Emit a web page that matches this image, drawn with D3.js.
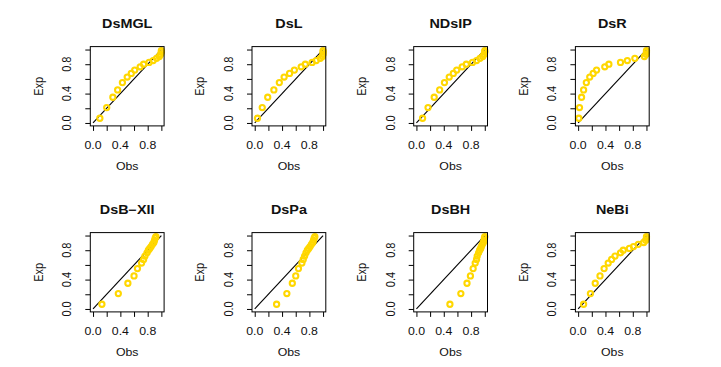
<!DOCTYPE html>
<html><head><meta charset="utf-8">
<script src="https://cdn.jsdelivr.net/npm/d3@7"></script>
<style>body{margin:0;background:#fff}svg{display:block}text{font-family:"Liberation Sans",Arial,sans-serif;fill:#111}</style>
</head><body>
<script>
const titles = ["DsMGL","DsL","NDsIP","DsR","DsB\u2212XII","DsPa","DsBH","NeBi"];
const expVals = [0.064,0.21,0.35,0.45,0.55,0.625,0.675,0.72,0.765,0.80,0.825,0.85,0.88,0.905,0.935,0.965,0.985];
const obsDsMGL = [0.10,0.20,0.29,0.36,0.43,0.50,0.56,0.61,0.69,0.74,0.82,0.88,0.93,0.97,0.99,1.0,1.0];
const obsDsL   = [0.04,0.11,0.19,0.28,0.36,0.43,0.51,0.58,0.68,0.74,0.84,0.90,0.96,0.99,1.0,1.0,1.0];
const obsNDsIP = [0.09,0.17,0.26,0.34,0.41,0.48,0.54,0.59,0.67,0.73,0.82,0.88,0.93,0.97,0.99,1.0,1.0];
const obsDsR   = [0.01,0.02,0.05,0.08,0.12,0.17,0.22,0.27,0.39,0.45,0.62,0.72,0.83,0.97,0.995,1.0,1.0];
const obsDsBXII= [0.13,0.37,0.51,0.60,0.65,0.71,0.74,0.76,0.79,0.81,0.83,0.85,0.87,0.89,0.90,0.91,0.92];
const obsDsPa  = [0.32,0.47,0.55,0.60,0.64,0.69,0.71,0.73,0.75,0.77,0.79,0.81,0.83,0.85,0.86,0.87,0.88];
const obsDsBH  = [0.49,0.65,0.74,0.79,0.83,0.86,0.88,0.89,0.91,0.925,0.94,0.95,0.965,0.98,0.99,0.995,1.0];
const obsNeBi  = [0.08,0.18,0.25,0.32,0.38,0.44,0.49,0.54,0.62,0.66,0.75,0.81,0.88,0.96,0.99,1.0,1.0];
const obsAll = [obsDsMGL,obsDsL,obsNDsIP,obsDsR,obsDsBXII,obsDsPa,obsDsBH,obsNeBi];
const ticks = [0,0.2,0.4,0.6,0.8,1.0];
const tickLabels = ["0.0","0.4","0.8"];
const labelTicks = [0,0.4,0.8];

const W=721,H=367;
const svg = d3.select("body").append("svg").attr("width",W).attr("height",H);
const colStep=161.7,rowStep=186,boxW=73.8,boxH=79.3,left0=90.3,top0=46.6;
const sxT=1.2, sx=1.12;

function txt(g,x,y,s,opts){
  const t=g.append("text").attr("text-anchor","middle")
    .attr("transform",`translate(${x},${y}) scale(${opts.sx||1},1)`+(opts.rot?` rotate(-90)`:""))
    .attr("font-size",opts.size).text(s);
  if(opts.bold) t.attr("font-weight","bold");
  return t;
}

obsAll.forEach((obs,i)=>{
  const c=i%4, r=Math.floor(i/4);
  const L=left0+colStep*c, T=top0+rowStep*r, R=L+boxW, B=T+boxH;
  const x=d3.scaleLinear().domain([-0.04,1.04]).range([L,R]);
  const y=d3.scaleLinear().domain([-0.04,1.04]).range([B,T]);
  const g=svg.append("g");
  const xa=d3.axisBottom(x).tickValues(ticks).tickSize(5).tickFormat("");
  g.append("g").attr("transform",`translate(0,${B})`).call(xa)
    .call(a=>a.select(".domain").remove()).selectAll("line").attr("stroke","#000");
  const ya=d3.axisLeft(y).tickValues(ticks).tickSize(5).tickFormat("");
  g.append("g").attr("transform",`translate(${L},0)`).call(ya)
    .call(a=>a.select(".domain").remove()).selectAll("line").attr("stroke","#000");
  labelTicks.forEach((v,k)=>{
    txt(g,x(v),B+22.6,tickLabels[k],{size:11,sx:sx});
    txt(g,L-19,y(v),tickLabels[k],{size:11,sx:sx,rot:true});
  });
  g.append("line").attr("x1",x(0)).attr("y1",y(0)).attr("x2",x(1)).attr("y2",y(1))
    .attr("stroke","#000").attr("stroke-width",1.1);
  g.selectAll("circle").data(obs.map((o,k)=>[o,expVals[k]])).join("circle")
    .attr("cx",d=>x(d[0])).attr("cy",d=>y(d[1])).attr("r",2.6)
    .attr("fill","none").attr("stroke","#FFD700").attr("stroke-width",2.1);
  g.append("rect").attr("x",L).attr("y",T).attr("width",boxW).attr("height",boxH)
    .attr("fill","none").attr("stroke","#000").attr("stroke-width",1);
  txt(g,(L+R)/2,T-19,titles[i],{size:12,sx:sxT,bold:true});
  txt(g,(L+R)/2,B+43.6,"Obs",{size:11,sx:sx});
  txt(g,L-47.6,(T+B)/2,"Exp",{size:11,sx:sx,rot:true});
});
</script>
</body></html>
